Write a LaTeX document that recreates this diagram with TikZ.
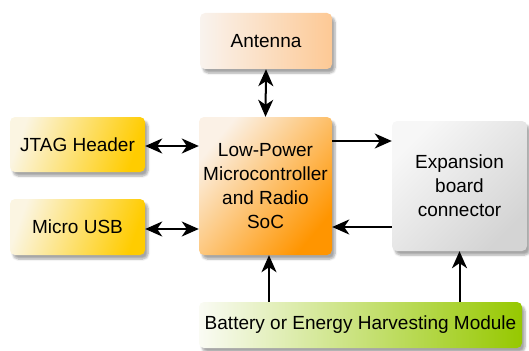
\documentclass[tikz,border=0pt]{standalone}
\usepackage{fontspec}
\setmainfont{Liberation Sans}
\usetikzlibrary{positioning, shapes, arrows.meta, calc, shadows.blur}

\tikzset{
    blk/.style={rounded corners=5pt, inner sep=2pt, align=center,
        blur shadow={shadow xshift=3pt, shadow yshift=-4pt, shadow blur steps=6, shadow opacity=35},
        font=\fontsize{19}{24}\selectfont},
    lnk/.style={line width=2pt, {Stealth[length=17pt,width=15pt,inset=5pt]}-{Stealth[length=17pt,width=15pt,inset=5pt]}},
    one/.style={line width=2pt, -{Stealth[length=17pt,width=15pt,inset=5pt]}}
}

\begin{document}
\begin{tikzpicture}[x=1pt, y=-1pt]
    \definecolor{antL}{HTML}{F9F3EE} % Peach
    \definecolor{antR}{HTML}{FDC995}
    \definecolor{jtgL}{HTML}{FBF5E2} % Yellow
    \definecolor{jtgR}{HTML}{FFCC00}
    \definecolor{socL}{HTML}{FBF1E6} % Orange
    \definecolor{socR}{HTML}{FF9500}
    \definecolor{expL}{HTML}{F7F7F7} % Gray
    \definecolor{expR}{HTML}{D4D4D4}
    \definecolor{batL}{HTML}{FAFBF4} % Green
    \definecolor{batR}{HTML}{96C800}

    \useasboundingbox (0,0) rectangle (529,350);

    % Boxes
    \node[blk, minimum width=132pt, minimum height=56pt, left color=antL, right color=antR] (ant) at (266,41) {Antenna};
    \node[blk, minimum width=135pt, minimum height=55pt, left color=jtgL, right color=jtgR, shading angle=70] (jtag) at (77.5,144.5) {JTAG Header};
    \node[blk, minimum width=135pt, minimum height=56pt, left color=jtgL, right color=jtgR, shading angle=70] (usb) at (77.5,227) {Micro USB};
    \node[blk, minimum width=133pt, minimum height=138pt, left color=socL, right color=socR, shading angle=50] (soc) at (265.5,186) {Low-Power\\Microcontroller\\and Radio\\SoC};
    \node[blk, minimum width=135pt, minimum height=130pt, left color=expL, right color=expR, shading angle=45] (exp) at (459.5,186) {Expansion\\board\\connector};
    \node[blk, minimum width=323pt, minimum height=46pt, left color=batL, right color=batR] (bat) at (360.5,325) {Battery or Energy Harvesting Module};

    % Arrows
    \draw[lnk] (ant.south) -- (soc.north);
    \draw[lnk] ([yshift=-1.5pt]jtag.east) -- ([yshift=-1.5pt]jtag.east -| soc.west);
    \draw[lnk] ([yshift=-2pt]usb.east) -- ([yshift=-2pt]usb.east -| soc.west);
    \draw[one] ([yshift=45pt]soc.east) -- ([yshift=45pt]soc.east -| exp.west);
    \draw[one] ([yshift=-41pt]exp.west) -- ([yshift=-41pt]exp.west -| soc.east);
    \draw[one] ([xshift=3.5pt]bat.north -| soc.south) -- ([xshift=3.5pt]soc.south);
    \draw[one] (bat.north -| exp.south) -- (exp.south);
\end{tikzpicture}
\end{document}
